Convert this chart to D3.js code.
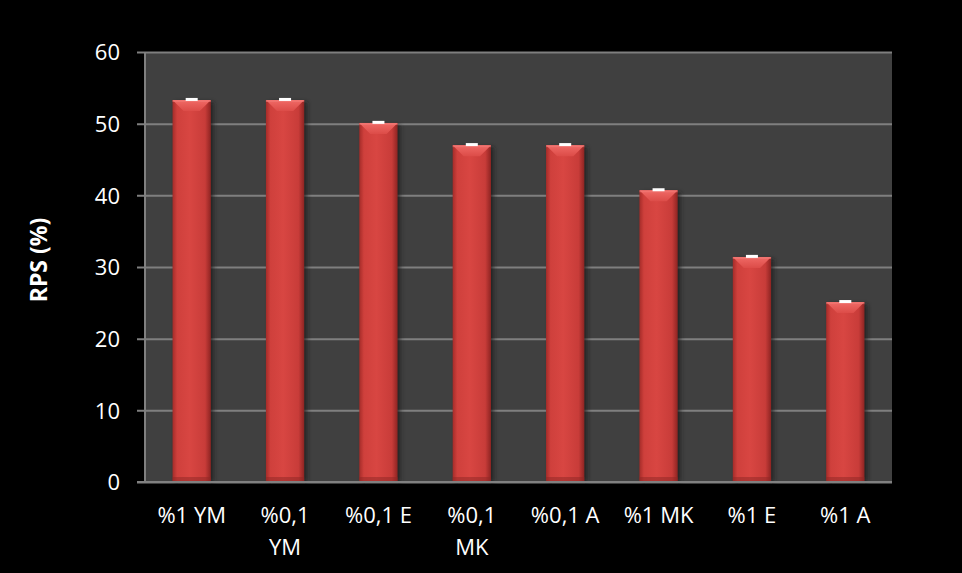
<!DOCTYPE html>
<html>
<head>
<meta charset="utf-8">
<script src="https://cdn.jsdelivr.net/npm/d3@7"></script>
<style>
  html, body { margin: 0; padding: 0; background: #000; }
  svg { display: block; }
</style>
</head>
<body>
<div class="chart"></div>
<script>
var categories = [["%1 YM"], ["%0,1", "YM"], ["%0,1 E"], ["%0,1", "MK"], ["%0,1 A"], ["%1 MK"], ["%1 E"], ["%1 A"]];
var values = [53.3, 53.3, 50.1, 47.0, 47.0, 40.7, 31.4, 25.1];
var errors = [0.15, 0.15, 0.15, 0.15, 0.15, 0.15, 0.15, 0.15];
var yTicks = [0, 10, 20, 30, 40, 50, 60];

var W = 962, H = 573;
var margin = {top: 52, right: 70, bottom: 91, left: 145},
    width = W - margin.left - margin.right,
    height = H - margin.top - margin.bottom;

var data = categories.map(function(c, i) {
    return {key: c.join(" "), lines: c, val: values[i], err: errors[i]};
});

var svg = d3.select(".chart")
    .append("svg")
    .attr("width", W)
    .attr("height", H);

var defs = svg.append("defs");

var bodyGrad = defs.append("linearGradient")
    .attr("id", "barBody")
    .attr("x1", "0%").attr("x2", "100%").attr("y1", "0%").attr("y2", "0%");
bodyGrad.append("stop").attr("offset", "0%").attr("stop-color", "#a52c29");
bodyGrad.append("stop").attr("offset", "12%").attr("stop-color", "#cf403c");
bodyGrad.append("stop").attr("offset", "45%").attr("stop-color", "#d84642");
bodyGrad.append("stop").attr("offset", "85%").attr("stop-color", "#c83c39");
bodyGrad.append("stop").attr("offset", "100%").attr("stop-color", "#8e2422");

var topGrad = defs.append("linearGradient")
    .attr("id", "barTop")
    .attr("x1", "0%").attr("x2", "0%").attr("y1", "0%").attr("y2", "100%");
topGrad.append("stop").attr("offset", "0%").attr("stop-color", "#f06a66");
topGrad.append("stop").attr("offset", "100%").attr("stop-color", "#dc4c48");

var shadow = defs.append("filter").attr("id", "shadow")
    .attr("x", "-30%").attr("width", "160%");
shadow.append("feGaussianBlur").attr("stdDeviation", 2);

var g = svg.append("g")
    .attr("transform", "translate(" + margin.left + "," + margin.top + ")");

var x = d3.scaleBand()
    .domain(data.map(function(d) { return d.key; }))
    .range([0, width])
    .paddingInner(0.59)
    .paddingOuter(0.295);

var y = d3.scaleLinear()
    .domain([0, 60])
    .range([height, 0]);

// plot background
g.append("rect")
    .attr("x", 0).attr("y", 0)
    .attr("width", width).attr("height", height)
    .attr("fill", "#404040");

// grid lines + y axis
var yAxis = d3.axisLeft(y)
    .tickValues(yTicks)
    .tickSize(-width - 8)
    .tickPadding(0);

var ya = g.append("g")
    .attr("class", "y-Axis")
    .attr("transform", "translate(" + (-8) + ",0)")
    .call(yAxis);
ya.select(".domain").remove();
ya.selectAll(".tick line")
    .attr("x1", 0)
    .attr("x2", width + 8)
    .attr("stroke", "#7f7f7f")
    .attr("stroke-width", 2);
ya.selectAll(".tick text")
    .attr("x", -17)
    .attr("fill", "#fff")
    .attr("font-family", "'Open Sans', sans-serif")
    .attr("font-size", 22)
    .attr("dy", "0.36em");

// left axis line
g.append("line")
    .attr("x1", 0).attr("x2", 0)
    .attr("y1", y(60)).attr("y2", y(0))
    .attr("stroke", "#808080")
    .attr("stroke-width", 2);

// bars
var bars = g.selectAll(".bar")
    .data(data)
    .enter().append("g")
    .attr("class", "bar");

bars.append("rect")
    .attr("x", function(d) { return x(d.key) + 3; })
    .attr("y", function(d) { return y(d.val) + 2; })
    .attr("width", x.bandwidth())
    .attr("height", function(d) { return height - y(d.val) - 2; })
    .attr("fill", "#1a1a1a")
    .attr("opacity", 0.7)
    .attr("filter", "url(#shadow)");

bars.append("rect")
    .attr("x", function(d) { return x(d.key); })
    .attr("y", function(d) { return y(d.val); })
    .attr("width", x.bandwidth())
    .attr("height", function(d) { return height - y(d.val); })
    .attr("fill", "url(#barBody)");

var bev = 11;
bars.append("polygon")
    .attr("points", function(d) {
        var x0 = x(d.key), x1 = x0 + x.bandwidth(), y0 = y(d.val);
        return [[x0, y0], [x1, y0], [x1 - bev, y0 + bev], [x0 + bev, y0 + bev]].join(" ");
    })
    .attr("fill", "url(#barTop)");

bars.append("rect")
    .attr("x", function(d) { return x(d.key); })
    .attr("y", function(d) { return y(d.val); })
    .attr("width", x.bandwidth())
    .attr("height", 2)
    .attr("fill", "#f27c78")
    .attr("opacity", 0.6);

// bottom bevel
bars.append("rect")
    .attr("x", function(d) { return x(d.key); })
    .attr("y", height - 5)
    .attr("width", x.bandwidth())
    .attr("height", 5)
    .attr("fill", "#8e2624")
    .attr("opacity", 0.5);

// error bar caps
bars.append("rect")
    .attr("x", function(d) { return x(d.key) + x.bandwidth() / 2 - 6; })
    .attr("y", function(d) { return y(d.val + d.err) - 1; })
    .attr("width", 12)
    .attr("height", 3)
    .attr("fill", "#ffffff");

// x axis
var xAxis = d3.axisBottom(x).tickSize(0).tickPadding(0);
var xa = g.append("g")
    .attr("class", "x-Axis")
    .attr("transform", "translate(0," + height + ")")
    .call(xAxis);
xa.select(".domain").remove();
xa.selectAll(".tick text").remove();
xa.selectAll(".tick").each(function(k, i) {
    var t = d3.select(this).append("text")
        .attr("fill", "#fff")
        .attr("font-family", "'Open Sans', sans-serif")
        .attr("font-size", 22)
        .attr("text-anchor", "middle");
    data[i].lines.forEach(function(line, j) {
        t.append("tspan")
            .attr("x", 0)
            .attr("y", 41 + j * 32)
            .text(line);
    });
});

g.append("line")
    .attr("x1", -8).attr("x2", width)
    .attr("y1", height).attr("y2", height)
    .attr("stroke", "#808080")
    .attr("stroke-width", 2);

// y label
svg.append("text")
    .attr("transform", "translate(47," + 260 + ") rotate(-90)")
    .attr("text-anchor", "middle")
    .attr("fill", "#fff")
    .attr("font-family", "'Open Sans', sans-serif")
    .attr("font-weight", "bold")
    .attr("font-size", 23)
    .text("RPS (%)");
</script>
</body>
</html>
